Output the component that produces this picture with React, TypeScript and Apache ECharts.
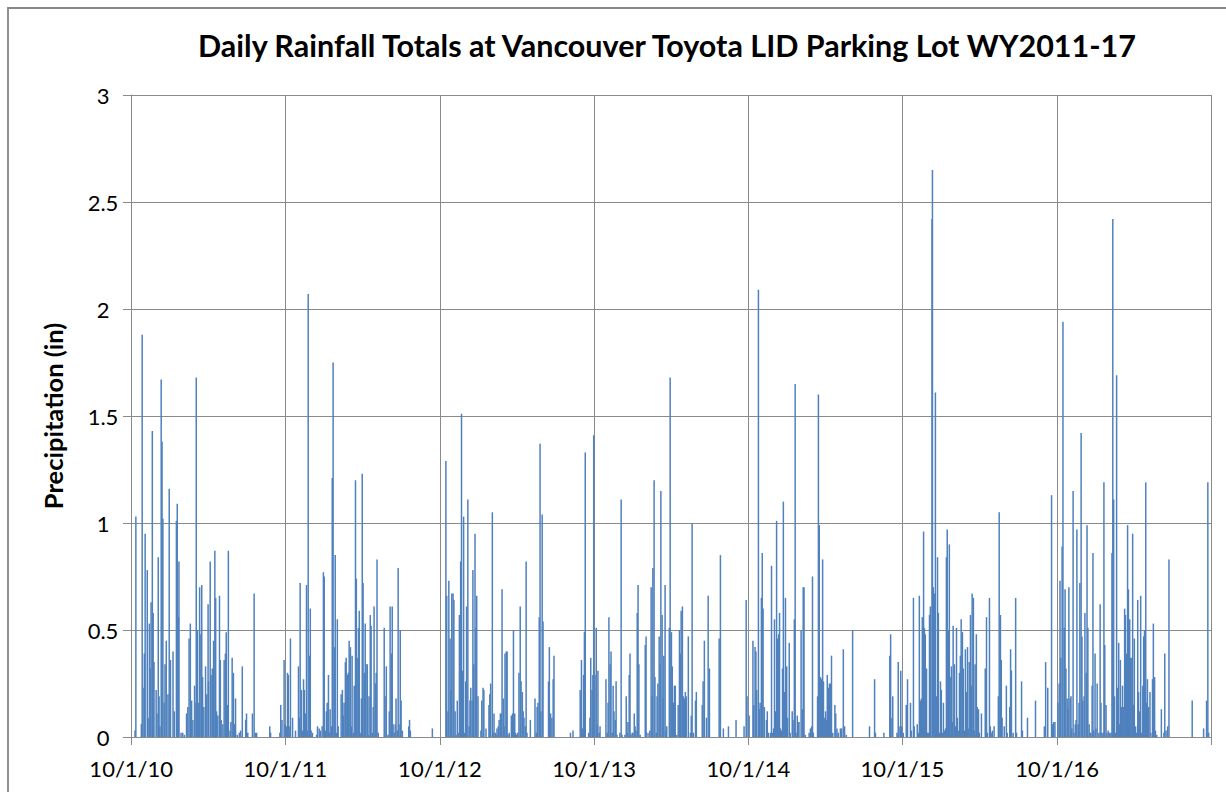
import React, { useEffect, useRef } from "react";
import * as echarts from "echarts";

const TITLE = "Daily Rainfall Totals at Vancouver Toyota LID Parking Lot WY2011-17";
const Y_NAME = "Precipitation (in)";
const WATER_YEARS = [2011, 2012, 2013, 2014, 2015, 2016, 2017];
const Y_MIN = 0;
const Y_MAX = 3;
const Y_STEP = 0.5;

// [day of water year (0 = Oct 1), daily rainfall in inches]
const rain2011: [number, number][] = [[9,0.03],[11,1.03],[24,0.06],[26,1.88],[28,0.23],[31,0.39],[33,0.95],[38,0.78],[40,0.09],[43,0.53],[45,0.32],[47,0.63],[50,1.43],[52,0.58],[54,0.35],[59,0.22],[61,0.11],[64,0.84],[66,0.19],[68,0.05],[71,1.67],[73,1.38],[75,1.02],[78,0.16],[80,0.34],[83,0.45],[87,0.2],[90,1.16],[93,0.36],[99,0.4],[102,0.12],[107,1.01],[109,1.09],[112,0.56],[113,0.82],[118,0.02],[122,0.02],[126,0.01],[131,0.11],[134,0.14],[137,0.46],[140,0.53],[143,0.17],[146,0.08],[150,0.24],[151,0.16],[154,1.68],[157,0.5],[160,0.16],[162,0.7],[165,0.48],[167,0.71],[169,0.28],[172,0.14],[176,0.33],[179,0.2],[182,0.62],[183,0.26],[187,0.82],[189,0.29],[192,0.32],[195,0.45],[198,0.87],[200,0.65],[202,0.12],[205,0.1],[209,0.66],[211,0.36],[213,0.08],[217,0.06],[220,0.36],[223,0.39],[225,0.49],[228,0.15],[230,0.87],[234,0.03],[236,0.07],[239,0.37],[242,0.3],[244,0.06],[247,0.18],[251,0.01],[256,0.02],[259,0.03],[263,0.33],[271,0.08],[273,0.11],[276,0.02],[287,0.11],[291,0.67],[294,0.02],[297,0.02],[328,0.05],[330,0.02],[352,0.02],[354,0.15],[357,0.08],[362,0.36],[364,0.06]];
const rain2012: [number, number][] = [[2,0.05],[5,0.3],[7,0.29],[9,0.05],[12,0.46],[17,0.09],[24,0.03],[31,0.33],[33,0.09],[35,0.72],[38,0.22],[40,0.03],[43,0.27],[45,0.22],[47,0.11],[50,0.71],[52,0.03],[54,2.07],[57,0.38],[59,0.6],[61,0.03],[64,0.02],[74,0.01],[76,0.05],[80,0.04],[83,0.03],[87,0.05],[90,0.77],[92,0.75],[95,0.03],[97,0.12],[99,0.16],[102,0.29],[104,0.02],[106,0.13],[109,0.05],[111,1.21],[113,1.75],[116,0.42],[118,0.85],[121,0.02],[123,0.55],[125,0.05],[132,0.2],[135,0.22],[137,0.1],[139,0.16],[142,0.35],[144,0.37],[147,0.29],[149,0.3],[151,0.45],[154,0.42],[156,0.05],[158,0.38],[161,0.02],[163,0.24],[166,1.2],[168,0.74],[170,0.37],[173,0.51],[175,0.59],[177,0.02],[180,0.18],[182,1.23],[184,0.72],[187,0.3],[189,0.53],[191,0.34],[194,0.34],[196,0.01],[198,0.19],[201,0.57],[203,0.52],[206,0.02],[208,0.14],[210,0.61],[213,0.25],[215,0.3],[217,0.83],[220,0.02],[234,0.51],[236,0.19],[239,0.33],[243,0.01],[246,0.12],[248,0.61],[251,0.39],[253,0.61],[255,0.06],[258,0.02],[260,0.06],[262,0.18],[265,0.03],[267,0.79],[269,0.06],[272,0.5],[274,0.17],[277,0.03],[292,0.05],[294,0.08],[296,0.03],[348,0.04]];
const rain2013: [number, number][] = [[14,1.29],[16,0.66],[19,0.12],[21,0.73],[24,0.46],[26,0.22],[28,0.67],[31,0.67],[33,0.64],[36,0.12],[38,0.01],[41,0.17],[43,0.02],[46,0.57],[49,0.82],[51,1.51],[53,0.31],[56,1.03],[58,0.02],[61,0.26],[63,0.61],[66,1.11],[69,0.05],[71,0.17],[73,0.23],[76,0.17],[78,0.78],[80,0.34],[83,0.95],[85,0.51],[87,0.66],[90,0.19],[97,0.03],[99,0.17],[102,0.23],[104,0.22],[109,0.04],[116,0.15],[118,0.2],[120,0.25],[124,1.05],[126,0.02],[128,0.11],[131,0.02],[133,0.01],[135,0.04],[138,0.05],[140,0.08],[143,0.11],[145,0.11],[147,0.69],[150,0.18],[152,0.05],[154,0.39],[157,0.4],[159,0.4],[161,0.01],[164,0.02],[169,0.1],[172,0.11],[174,0.5],[177,0.11],[179,0.02],[181,0.01],[184,0.02],[187,0.3],[190,0.61],[192,0.26],[195,0.21],[197,0.12],[199,0.09],[202,0.05],[204,0.82],[206,0.02],[214,0.08],[225,0.18],[228,0.02],[230,0.14],[232,0.16],[235,0.56],[237,1.37],[239,0.12],[242,1.04],[244,0.54],[257,0.26],[259,0.42],[262,0.11],[265,0.09],[268,0.27],[270,0.38],[309,0.02],[315,0.03],[332,0.22],[335,0.36],[337,0.04],[340,0.29],[342,0.49],[344,1.33],[352,0.02],[355,0.09],[357,0.37],[360,0.22],[362,0.29],[364,1.41]];
const rain2014: [number, number][] = [[2,0.29],[5,0.51],[7,0.06],[9,0.31],[12,0.02],[14,0.05],[28,0.27],[31,0.02],[33,0.16],[35,0.56],[38,0.34],[40,0.4],[43,0.02],[45,0.24],[47,0.12],[50,0.08],[52,0.26],[54,0.01],[61,0.02],[64,1.11],[66,0.01],[73,0.01],[76,0.19],[78,0.02],[80,0.07],[83,0.29],[85,0.39],[87,0.01],[90,0.02],[92,0.02],[95,0.11],[97,0.05],[99,0.03],[102,0.58],[104,0.71],[106,0.34],[109,0.01],[121,0.43],[123,0.47],[125,0.02],[130,0.02],[132,0.03],[135,0.7],[137,0.19],[139,0.79],[142,1.2],[144,0.28],[147,0.02],[149,0.19],[151,0.25],[154,0.47],[156,0.34],[158,1.15],[161,0.57],[163,0.18],[165,0.38],[168,0.71],[170,0.03],[172,0.05],[178,0.51],[180,1.68],[183,0.49],[185,0.33],[188,0.16],[190,0.24],[192,0.24],[195,0.01],[199,0.15],[202,0.5],[204,0.39],[206,0.59],[209,0.61],[211,0.19],[214,0.18],[216,0.21],[218,0.19],[223,0.47],[228,0.02],[230,0.1],[232,1.0],[235,0.02],[240,0.17],[242,0.21],[256,0.15],[258,0.26],[261,0.45],[266,0.09],[270,0.66],[273,0.32],[296,0.46],[299,0.85],[306,0.04],[318,0.05],[336,0.08],[355,0.05],[360,0.64],[362,0.19]];
const rain2015: [number, number][] = [[2,0.1],[11,0.45],[13,0.15],[16,0.42],[18,0.4],[20,0.22],[24,2.09],[26,0.13],[28,0.16],[31,0.65],[33,0.86],[35,0.6],[38,0.14],[43,0.08],[45,0.12],[48,0.02],[53,0.02],[55,0.8],[57,0.02],[60,0.04],[62,0.55],[65,0.12],[67,1.01],[69,0.46],[72,0.48],[74,0.58],[76,0.04],[79,0.03],[81,0.32],[83,1.1],[86,0.21],[88,0.65],[91,0.33],[93,0.09],[97,0.44],[99,0.02],[104,0.12],[106,0.08],[109,0.55],[111,1.65],[113,0.02],[116,0.1],[118,0.07],[120,0.07],[125,0.5],[128,0.13],[130,0.7],[132,0.7],[135,0.01],[144,0.02],[147,0.04],[150,0.05],[152,0.75],[154,0.02],[164,0.19],[166,1.6],[168,0.99],[171,0.28],[173,0.27],[176,0.83],[178,0.26],[180,0.09],[183,0.12],[185,0.08],[187,0.29],[190,0.23],[192,0.25],[195,0.25],[197,0.38],[200,0.02],[205,0.15],[207,0.11],[210,0.04],[213,0.02],[218,0.04],[221,0.04],[225,0.41],[228,0.05],[232,0.01],[247,0.5],[287,0.05],[299,0.27],[301,0.02],[321,0.02],[335,0.38],[337,0.48],[340,0.09],[342,0.19],[352,0.02],[355,0.35],[359,0.05],[361,0.31],[363,0.05]];
const rain2016: [number, number][] = [[2,0.02],[9,0.15],[12,0.27],[19,0.16],[21,0.03],[26,0.65],[28,0.05],[35,0.06],[38,0.02],[40,0.66],[43,0.17],[45,0.18],[47,0.56],[50,0.96],[52,0.51],[54,0.48],[57,0.32],[59,0.02],[61,0.02],[64,0.57],[66,0.61],[70,2.42],[71,2.65],[73,0.7],[76,0.67],[78,1.61],[80,0.19],[83,0.84],[85,0.58],[87,0.02],[90,0.26],[92,0.22],[95,0.02],[97,0.16],[99,0.03],[102,0.04],[104,0.84],[106,0.97],[109,0.5],[111,0.9],[113,0.28],[116,0.33],[118,0.07],[120,0.52],[123,0.34],[125,0.05],[128,0.51],[130,0.09],[132,0.03],[135,0.3],[137,0.38],[139,0.55],[142,0.49],[144,0.32],[147,0.03],[149,0.41],[151,0.21],[154,0.42],[156,0.04],[158,0.35],[161,0.57],[163,0.24],[165,0.67],[168,0.65],[170,0.03],[172,0.34],[175,0.48],[177,0.14],[180,0.13],[182,0.02],[187,0.11],[196,0.32],[199,0.56],[201,0.02],[206,0.65],[208,0.05],[210,0.02],[213,0.03],[217,0.05],[227,0.19],[229,1.05],[232,0.57],[234,0.36],[236,0.09],[241,0.05],[246,0.24],[248,0.02],[254,0.14],[256,0.41],[258,0.31],[262,0.02],[268,0.65],[270,0.02],[282,0.26],[284,0.03],[296,0.09],[315,0.17],[336,0.05],[339,0.35],[344,0.23],[353,1.13],[355,0.06],[358,0.07],[361,0.07]];
const rain2017: [number, number][] = [[2,0.16],[5,0.25],[7,0.73],[9,0.37],[12,0.89],[14,1.94],[17,0.51],[19,0.69],[21,0.32],[24,0.18],[26,0.13],[28,0.7],[31,0.18],[33,0.19],[35,0.04],[38,1.15],[40,0.02],[43,0.06],[45,0.08],[47,0.97],[50,0.06],[52,0.16],[54,0.72],[57,1.42],[59,0.47],[61,0.17],[64,0.19],[66,0.58],[69,0.3],[71,0.99],[73,0.51],[76,0.06],[78,0.02],[80,0.02],[83,0.24],[85,0.86],[87,0.03],[90,0.39],[92,0.04],[95,0.25],[99,0.02],[102,0.62],[104,0.16],[106,0.02],[109,0.02],[111,1.19],[113,0.43],[116,0.15],[118,0.02],[121,0.03],[123,0.02],[125,0.02],[128,0.02],[130,0.86],[132,2.42],[134,1.11],[136,0.19],[139,0.02],[141,1.69],[143,0.23],[146,0.44],[148,0.06],[150,0.36],[153,0.14],[155,0.24],[158,0.14],[160,0.6],[162,0.57],[165,0.39],[167,0.99],[169,0.69],[172,0.55],[174,0.37],[177,0.37],[179,0.95],[181,0.15],[183,0.46],[186,0.05],[188,0.02],[191,0.64],[193,0.21],[195,0.12],[198,0.66],[200,0.02],[203,0.24],[205,0.47],[207,0.5],[210,1.19],[212,0.16],[214,0.27],[217,0.14],[220,0.21],[222,0.02],[226,0.27],[228,0.53],[231,0.28],[233,0.03],[236,0.01],[247,0.13],[253,0.02],[255,0.39],[258,0.03],[262,0.05],[265,0.83],[320,0.17],[347,0.04],[354,0.17],[357,1.19],[359,0.02]];

const RAIN_BY_YEAR = [rain2011, rain2012, rain2013, rain2014, rain2015, rain2016, rain2017];

const BAR_COLOR = "#4f81bd";
const GRID_COLOR = "#8a8a8a";
const FONT = "Lato, 'Open Sans', sans-serif";

function dayLabel(t: number): string {
  const d = new Date(t);
  const yy = String(d.getUTCFullYear() % 100).padStart(2, "0");
  return `${d.getUTCMonth() + 1}/${d.getUTCDate()}/${yy}`;
}

function buildDays(): string[] {
  const start = Date.UTC(WATER_YEARS[0] - 1, 9, 1);
  const end = Date.UTC(WATER_YEARS[WATER_YEARS.length - 1], 9, 1);
  const out: string[] = [];
  for (let t = start; t < end; t += 86400000) out.push(dayLabel(t));
  return out;
}

export default function App() {
  const ref = useRef<HTMLDivElement>(null);

  useEffect(() => {
    if (!ref.current) return;
    const chart = echarts.init(ref.current, undefined, { renderer: "svg" });
    const days = buildDays();
    const data: [number, number][] = [];
    WATER_YEARS.forEach((wy, i) => {
      const startIdx = days.indexOf(dayLabel(Date.UTC(wy - 1, 9, 1)));
      RAIN_BY_YEAR[i].forEach(([d, v]) => data.push([startIdx + d, v]));
    });
    const isYearStart = (_idx: number, value: string) => String(value).startsWith("10/1/");
    const BAR_W = 1.5;

    chart.setOption({
      animation: false,
      grid: { left: 131, right: 15, top: 95, bottom: 55, containLabel: false },
      xAxis: {
        type: "category",
        data: days,
        boundaryGap: true,
        axisLine: { show: true, lineStyle: { color: GRID_COLOR, width: 1 } },
        axisTick: { show: true, interval: isYearStart, length: 8, lineStyle: { color: GRID_COLOR } },
        axisLabel: { interval: isYearStart, color: "#000", fontFamily: FONT, fontSize: 22, margin: 20 },
        splitLine: { show: true, interval: isYearStart, lineStyle: { color: GRID_COLOR, width: 1 } },
      },
      yAxis: {
        type: "value",
        min: Y_MIN,
        max: Y_MAX,
        interval: Y_STEP,
        name: Y_NAME,
        nameLocation: "middle",
        nameGap: 65,
        nameTextStyle: { color: "#000", fontFamily: FONT, fontSize: 25.5, fontWeight: "bold" },
        axisLine: { show: true, lineStyle: { color: GRID_COLOR, width: 1 } },
        axisTick: { show: true, length: 8, lineStyle: { color: GRID_COLOR } },
        axisLabel: { color: "#000", fontFamily: FONT, fontSize: 22, margin: 28, align: "center" },
        splitLine: { show: true, lineStyle: { color: GRID_COLOR, width: 1 } },
      },
      series: [
        {
          type: "custom",
          data,
          encode: { x: 0, y: 1 },
          renderItem: (_params: any, api: any) => {
            const idx = api.value(0);
            const v = api.value(1);
            const top = api.coord([idx, v]);
            const base = api.coord([idx, 0]);
            return {
              type: "rect",
              shape: { x: top[0] - BAR_W / 2, y: top[1], width: BAR_W, height: base[1] - top[1] },
              style: { fill: BAR_COLOR },
            };
          },
        },
      ],
      graphic: [
        {
          type: "rect",
          silent: true,
          shape: { x: 8, y: 8, width: 1400, height: 1000 },
          style: { fill: "none", stroke: "#868686", lineWidth: 1.8 },
        },
        {
          type: "text",
          x: 667,
          y: 45,
          style: {
            text: TITLE,
            fill: "#000",
            font: `bold 30.5px ${FONT}`,
            textAlign: "center",
            textVerticalAlign: "middle",
          },
        },
      ],
    });
    return () => chart.dispose();
  }, []);

  return (
    <div
      ref={ref}
      style={{ position: "fixed", left: 0, top: 0, width: 1226, height: 792, background: "#fff" }}
    />
  );
}
